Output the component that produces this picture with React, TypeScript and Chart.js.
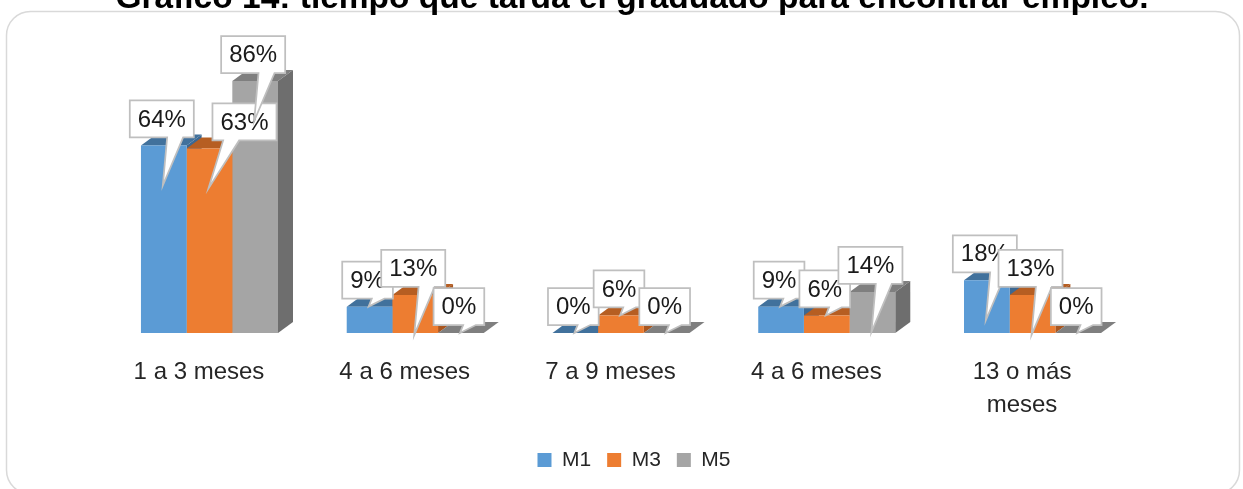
import React, { useEffect, useRef } from 'react';
import { Chart, registerables } from 'chart.js';

Chart.register(...registerables);

// ---- data ----
const titleText = 'Gráfico 14: tiempo que tarda el graduado para encontrar empleo.';
const categories: (string | string[])[] = ['1 a 3 meses', '4 a 6 meses', '7 a 9 meses', '4 a 6 meses', ['13 o más', 'meses']];
const seriesNames = ['M1', 'M3', 'M5'];
const m1Values = [64, 9, 0, 9, 18];
const m3Values = [63, 13, 6, 6, 13];
const m5Values = [86, 0, 0, 14, 0];

// ---- styles ----
const frontColors = ['#5B9BD5', '#ED7D31', '#A5A5A5'];
const topColors = ['#41719C', '#B65E22', '#7F7F7F'];
const sideColors = ['#3C6892', '#A9561F', '#6E6E6E'];
const DEPTH_X = 15;
const DEPTH_Y = 11;
const FONT = '"Liberation Sans", Arial, sans-serif';

const framePlugin = {
  id: 'frameAndTitle',
  beforeDraw(chart: any) {
    const ctx = chart.ctx;
    ctx.save();
    ctx.fillStyle = '#ffffff';
    ctx.fillRect(0, 0, chart.width, chart.height);
    const x0 = 6.5, y0 = 11.5, x1 = 1239.5, y1 = 494, r = 24;
    ctx.beginPath();
    ctx.moveTo(x0 + r, y0);
    ctx.lineTo(x1 - r, y0);
    ctx.arcTo(x1, y0, x1, y0 + r, r);
    ctx.lineTo(x1, y1 - r);
    ctx.arcTo(x1, y1, x1 - r, y1, r);
    ctx.lineTo(x0 + r, y1);
    ctx.arcTo(x0, y1, x0, y1 - r, r);
    ctx.lineTo(x0, y0 + r);
    ctx.arcTo(x0, y0, x0 + r, y0, r);
    ctx.closePath();
    ctx.strokeStyle = '#D9D9D9';
    ctx.lineWidth = 1.5;
    ctx.stroke();
    ctx.fillStyle = '#000000';
    ctx.font = `bold 33.5px ${FONT}`;
    ctx.textAlign = 'center';
    ctx.textBaseline = 'alphabetic';
    ctx.fillText(titleText, 632, 8);
    ctx.restore();
  },
};

const legendShiftPlugin = {
  id: 'legendShift',
  afterLayout(chart: any) {
    if (chart.legend) {
      chart.legend.left += 13;
      chart.legend.right += 13;
    }
  },
};

const bars3dPlugin = {
  id: 'bars3d',
  beforeDatasetsDraw(chart: any) {
    const ctx = chart.ctx;
    const nCat = chart.data.labels.length;
    ctx.save();
    for (let i = 0; i < nCat; i++) {
      for (let d = 0; d < chart.data.datasets.length; d++) {
        const el: any = chart.getDatasetMeta(d).data[i];
        if (!el) continue;
        const left = el.x - el.width / 2;
        const right = el.x + el.width / 2;
        const top = el.y;
        const base = el.base;
        ctx.fillStyle = sideColors[d];
        ctx.beginPath();
        ctx.moveTo(right, top);
        ctx.lineTo(right + DEPTH_X, top - DEPTH_Y);
        ctx.lineTo(right + DEPTH_X, base - DEPTH_Y);
        ctx.lineTo(right, base);
        ctx.closePath();
        ctx.fill();
        ctx.fillStyle = topColors[d];
        ctx.beginPath();
        ctx.moveTo(left, top);
        ctx.lineTo(left + DEPTH_X, top - DEPTH_Y);
        ctx.lineTo(right + DEPTH_X, top - DEPTH_Y);
        ctx.lineTo(right, top);
        ctx.closePath();
        ctx.fill();
      }
    }
    ctx.restore();
  },
};

const calloutPlugin = {
  id: 'callouts',
  afterDatasetsDraw(chart: any, _args: any, opts: any) {
    const ctx = chart.ctx;
    const nudges = (opts && opts.nudges) || {};
    ctx.save();
    ctx.font = `24px ${FONT}`;
    for (let d = 0; d < chart.data.datasets.length; d++) {
      const ds = chart.data.datasets[d];
      const meta = chart.getDatasetMeta(d);
      for (let i = 0; i < ds.data.length; i++) {
        const el: any = meta.data[i];
        const text = `${ds.data[i]}%`;
        const tw = ctx.measureText(text).width;
        const w = tw + 16;
        const h = 37;
        const cx = el.x - 2 + (nudges[`${d}:${i}`] || 0);
        const bottom = el.y - 8;
        const top = bottom - h;
        const left = cx - w / 2;
        const right = cx + w / 2;
        const tipX = el.x - 1;
        const tipY = el.base - el.y > 30 ? el.y + 40 : el.y;
        const b1 = tipX <= cx ? left + (w * 2) / 12 : left + (w * 7) / 12;
        const b2 = tipX <= cx ? left + (w * 5) / 12 : left + (w * 10) / 12;
        ctx.beginPath();
        ctx.moveTo(left, top);
        ctx.lineTo(right, top);
        ctx.lineTo(right, bottom);
        ctx.lineTo(b2, bottom);
        ctx.lineTo(tipX, tipY);
        ctx.lineTo(b1, bottom);
        ctx.lineTo(left, bottom);
        ctx.closePath();
        ctx.fillStyle = '#FFFFFF';
        ctx.fill();
        ctx.strokeStyle = '#BFBFBF';
        ctx.lineWidth = 1.75;
        ctx.stroke();
        ctx.fillStyle = '#1A1A1A';
        ctx.textAlign = 'center';
        ctx.textBaseline = 'middle';
        ctx.fillText(text, cx, (top + bottom) / 2 + 1);
      }
    }
    ctx.restore();
  },
};

export default function App() {
  const canvasRef = useRef<HTMLCanvasElement | null>(null);

  useEffect(() => {
    if (!canvasRef.current) return;
    const values = [m1Values, m3Values, m5Values];
    const chart = new Chart(canvasRef.current, {
      type: 'bar',
      data: {
        labels: categories as any,
        datasets: seriesNames.map((name, k) => ({
          label: name,
          data: values[k],
          backgroundColor: frontColors[k],
          borderWidth: 0,
          categoryPercentage: 0.666,
          barPercentage: 1.0,
        })),
      },
      options: {
        responsive: false,
        animation: false,
        devicePixelRatio: 1,
        layout: { padding: { left: 106.6, right: 107.6, top: 40, bottom: 8.5 } },
        scales: {
          x: {
            grid: { display: false, drawTicks: false },
            border: { display: false },
            afterFit: (scale: any) => {
              scale.height = 100.5;
            },
            ticks: {
              padding: 23,
              labelOffset: -10.5,
              maxRotation: 0,
              minRotation: 0,
              autoSkip: false,
              color: '#262626',
              font: { family: FONT, size: 24, lineHeight: 33 / 24 },
            },
          },
          y: { display: false, min: 0, max: 100 },
        },
        plugins: {
          legend: {
            position: 'bottom',
            labels: {
              boxWidth: 14,
              boxHeight: 14,
              padding: 16,
              color: '#262626',
              font: { family: FONT, size: 21 },
            },
          },
          tooltip: { enabled: false },
          callouts: { nudges: { '1:0': 37 } },
        } as any,
      },
      plugins: [framePlugin, legendShiftPlugin, bars3dPlugin, calloutPlugin],
    });
    return () => chart.destroy();
  }, []);

  return (
    <div style={{ position: 'absolute', left: 0, top: 0, width: 1243, height: 489, background: '#fff' }}>
      <canvas ref={canvasRef} width={1243} height={489} style={{ display: 'block', width: 1243, height: 489 }} />
    </div>
  );
}
